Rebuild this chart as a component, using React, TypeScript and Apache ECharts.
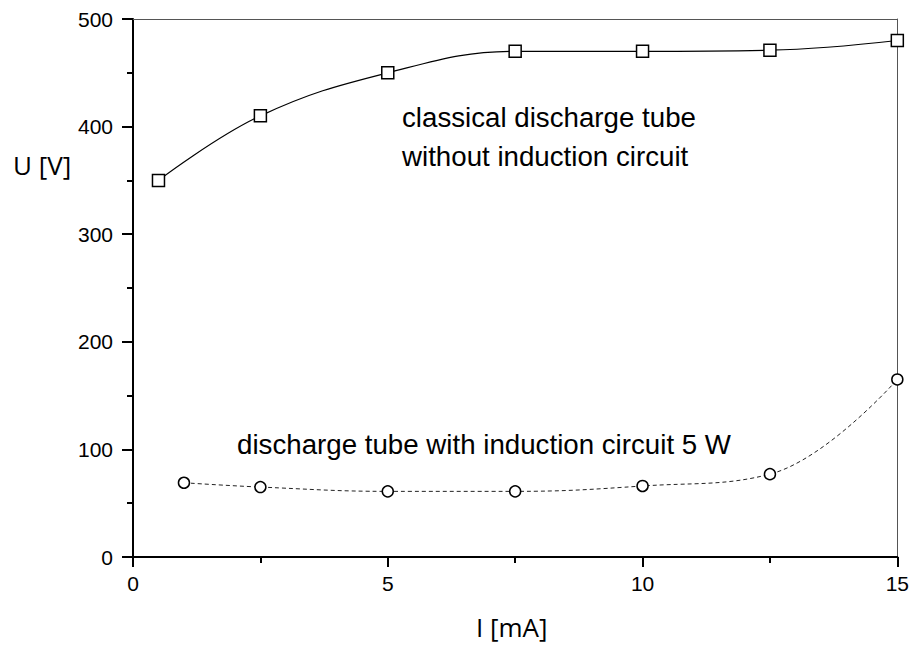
import React, { useEffect, useRef } from "react";
import * as echarts from "echarts";

const classicalI = [0.5, 2.5, 5, 7.5, 10, 12.5, 15];
const classicalU = [350, 410, 450, 470, 470, 471, 480];
const inductionI = [1, 2.5, 5, 7.5, 10, 12.5, 15];
const inductionU = [69, 65, 61, 61, 66, 77, 165];
const xTicks = [0, 5, 10, 15];
const yTicks = [0, 100, 200, 300, 400, 500];
const classicalLabel = ["classical discharge tube", "without induction circuit"];
const inductionLabel = "discharge tube with induction circuit 5 W";
const xName = "I [mA]";
const yName = "U [V]";

const FONT = "Liberation Sans, Arial, sans-serif";
const TITLE_FONT = "Open Sans, sans-serif";

export default function App() {
  const ref = useRef<HTMLDivElement>(null);
  useEffect(() => {
    if (!ref.current) return;
    const chart = echarts.init(ref.current, undefined, { renderer: "svg" });
    const pair = (xs: number[], ys: number[]) => xs.map((x, i) => [x, ys[i]]);
    chart.setOption({
      animation: false,
      backgroundColor: "#fff",
      grid: { left: 133, top: 19, right: 14, bottom: 88, containLabel: false },
      xAxis: [
        {
          type: "value",
          min: xTicks[0],
          max: xTicks[xTicks.length - 1],
          interval: 5,
          axisLine: { show: true, lineStyle: { color: "#000", width: 2 } },
          axisTick: { show: true, inside: false, length: 10, lineStyle: { color: "#000", width: 2 } },
          minorTick: { show: true, splitNumber: 2, length: 6, lineStyle: { color: "#000", width: 2 } },
          axisLabel: { color: "#000", fontSize: 21, fontFamily: FONT, margin: 16 },
          splitLine: { show: false },
        },
        {
          type: "value",
          position: "top",
          min: 0,
          max: 15,
          axisLine: { show: true, onZero: false, lineStyle: { color: "#555", width: 1 } },
          axisTick: { show: false },
          axisLabel: { show: false },
          splitLine: { show: false },
        },
      ],
      yAxis: [
        {
          type: "value",
          min: yTicks[0],
          max: yTicks[yTicks.length - 1],
          interval: 100,
          axisLine: { show: true, lineStyle: { color: "#000", width: 2 } },
          axisTick: { show: true, inside: false, length: 11, lineStyle: { color: "#000", width: 2 } },
          minorTick: { show: true, splitNumber: 2, length: 6, lineStyle: { color: "#000", width: 2 } },
          axisLabel: { color: "#000", fontSize: 21, fontFamily: FONT, margin: 20 },
          splitLine: { show: false },
        },
        {
          type: "value",
          position: "right",
          min: 0,
          max: 500,
          axisLine: { show: true, onZero: false, lineStyle: { color: "#555", width: 1 } },
          axisTick: { show: false },
          axisLabel: { show: false },
          splitLine: { show: false },
        },
      ],
      series: [
        {
          type: "line",
          data: pair(classicalI, classicalU),
          smooth: 0.4,
          symbol: "rect",
          symbolSize: 12,
          lineStyle: { color: "#000", width: 1.2 },
          itemStyle: { color: "#fff", borderColor: "#000", borderWidth: 1.5 },
          clip: false,
          z: 3,
        },
        {
          type: "line",
          data: pair(inductionI, inductionU),
          smooth: 0.4,
          symbol: "circle",
          symbolSize: 11,
          lineStyle: { color: "#222", width: 1, type: [4, 3] },
          itemStyle: { color: "#fff", borderColor: "#000", borderWidth: 1.5 },
          clip: false,
          z: 3,
        },
      ],
      graphic: [
        { type: "text", x: 402, y: 117, style: { text: classicalLabel[0], font: `27.7px ${FONT}`, fill: "#000", verticalAlign: "middle" } },
        { type: "text", x: 402, y: 156, style: { text: classicalLabel[1], font: `27.7px ${FONT}`, fill: "#000", verticalAlign: "middle" } },
        { type: "text", x: 237, y: 444, style: { text: inductionLabel, font: `27.7px ${FONT}`, fill: "#000", verticalAlign: "middle" } },
        { type: "text", x: 13, y: 165, style: { text: yName, font: `26px ${TITLE_FONT}`, fill: "#000", verticalAlign: "middle" } },
        { type: "text", x: 476, y: 627, style: { text: xName, font: `26px ${TITLE_FONT}`, fill: "#000", verticalAlign: "middle" } },
      ],
    });
    return () => chart.dispose();
  }, []);
  return (
    <div
      ref={ref}
      style={{ position: "absolute", left: 0, top: 0, width: 912, height: 645, background: "#fff" }}
    />
  );
}
